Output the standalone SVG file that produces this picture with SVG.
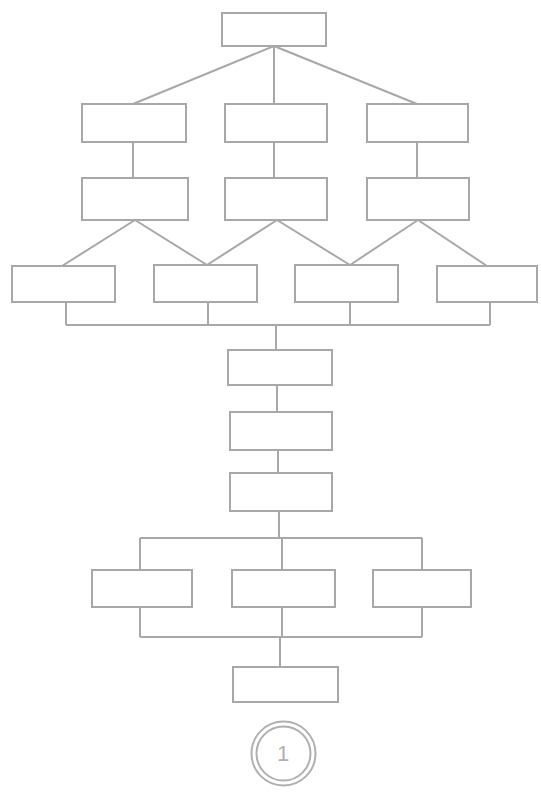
<svg xmlns="http://www.w3.org/2000/svg" width="541" height="797" viewBox="0 0 541 797">
<style>
.b{fill:#fff;stroke:#a8a8a8;stroke-width:2}
.c{fill:none;stroke:#a8a8a8;stroke-width:2;stroke-linejoin:round}
.t{font-family:"Liberation Sans",Arial,sans-serif;font-size:22px;fill:#b0b0b0;text-anchor:middle}
</style>
<rect width="541" height="797" fill="#fff"/>
<g id="connectors" class="c">
<path d="M274,46 L133,104 M274,46 L274,104 M274,46 L417,104"/>
<path d="M133,142 V178 M274,142 V178 M417,142 V178"/>
<path d="M135,220 L62,266 M135,220 L207,265 M277,220 L207,265 M277,220 L350,265 M418,220 L350,265 M418,220 L487,266"/>
<path d="M66,302 V325 M208,302 V325 M350,302 V325 M490,302 V325 M66,325 H490 M276,325 V350"/>
<path d="M277,385 V412 M278,450 V473"/>
<path d="M279,511 V538 M140,538 H422 M140,538 V570 M282,538 V570 M422,538 V570"/>
<path d="M140,607 V637 M282,607 V637 M422,607 V637 M140,637 H422 M280,637 V667"/>
</g>
<g id="n1"><rect class="b" x="222" y="13" width="104" height="33"/></g>
<g id="n2"><rect class="b" x="82" y="104" width="104" height="38"/></g>
<g id="n3"><rect class="b" x="225" y="104" width="102" height="38"/></g>
<g id="n4"><rect class="b" x="367" y="104" width="101" height="38"/></g>
<g id="n5"><rect class="b" x="82" y="178" width="106" height="42"/></g>
<g id="n6"><rect class="b" x="225" y="178" width="102" height="42"/></g>
<g id="n7"><rect class="b" x="367" y="178" width="102" height="42"/></g>
<g id="n8"><rect class="b" x="12" y="266" width="103" height="36"/></g>
<g id="n9"><rect class="b" x="154" y="265" width="103" height="37"/></g>
<g id="n10"><rect class="b" x="295" y="265" width="103" height="37"/></g>
<g id="n11"><rect class="b" x="437" y="266" width="100" height="36"/></g>
<g id="n12"><rect class="b" x="228" y="350" width="104" height="35"/></g>
<g id="n13"><rect class="b" x="230" y="412" width="102" height="38"/></g>
<g id="n14"><rect class="b" x="230" y="473" width="102" height="38"/></g>
<g id="n15"><rect class="b" x="92" y="570" width="100" height="37"/></g>
<g id="n16"><rect class="b" x="232" y="570" width="103" height="37"/></g>
<g id="n17"><rect class="b" x="373" y="570" width="98" height="37"/></g>
<g id="n18"><rect class="b" x="233" y="667" width="105" height="35"/></g>
<g id="n19">
<circle cx="283.5" cy="753.5" r="32" fill="#fff" stroke="#b0b0b0" stroke-width="2"/>
<circle cx="283.5" cy="753.5" r="27" fill="none" stroke="#b0b0b0" stroke-width="2"/>
<text class="t" x="283" y="761">1</text>
</g>
</svg>
